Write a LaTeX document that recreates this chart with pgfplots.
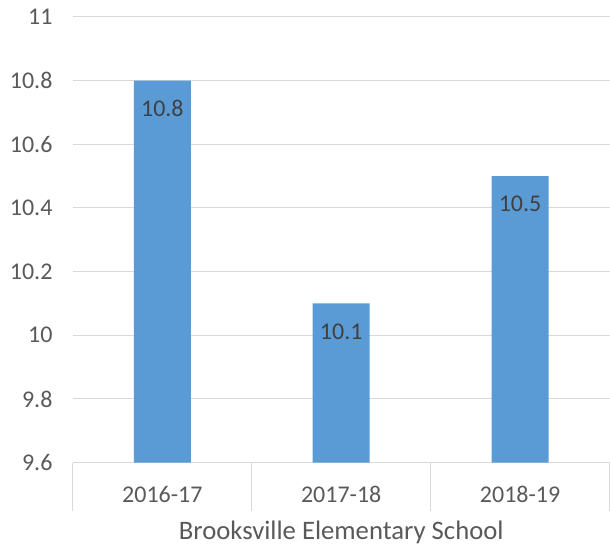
\documentclass[border=0pt]{standalone}
\usepackage{pgfplots}
\pgfplotsset{compat=1.18}
\usepackage{fontspec}
\setmainfont{Carlito}
\definecolor{barblue}{HTML}{5B9BD5}
\definecolor{gridgray}{HTML}{D9D9D9}
\definecolor{txtgray}{HTML}{595959}
\definecolor{lblgray}{HTML}{404040}
\begin{document}
\begin{tikzpicture}
\begin{axis}[
  scale only axis,
  width=537pt, height=446pt,
  xmin=-0.5, xmax=2.5, ymin=9.6, ymax=11,
  ytick={9.6,9.8,10,10.2,10.4,10.6,10.8,11},
  xtick={0,1,2},
  xticklabels={2016-17,2017-18,2018-19},
  minor xtick={-0.5,0.5,1.5,2.5},
  major tick length=0pt,
  minor tick length=48pt,
  tick align=outside,
  xtick style={draw=none},
  minor x tick style={draw=gridgray, line width=1pt},
  ytick style={draw=none},
  ymajorgrids,
  grid style={draw=gridgray, line width=1pt},
  axis x line*=bottom,
  axis y line*=left,
  separate axis lines,
  x axis line style={draw=gridgray, line width=1pt, -},
  y axis line style={draw=none},
  /pgf/number format/assume math mode=true,
  tick label style={font=\fontsize{24}{29}\selectfont, text=txtgray},
  yticklabel style={anchor=east, xshift=-17pt},
  xticklabel style={anchor=center, yshift=-32pt},
  xlabel={Brooksville Elementary School},
  xlabel style={font=\fontsize{26.7}{32}\selectfont, text=txtgray, anchor=center, at={(axis description cs:0.5,0)}, yshift=-70pt},
  clip=false,
]
\addplot[ybar, bar width=57pt, fill=barblue, draw=none,
  nodes near coords,
  every node near coord/.append style={font=\fontsize{24}{29}\selectfont, text=lblgray, anchor=center, yshift=-28pt}]
  coordinates {(0,10.8) (1,10.1) (2,10.5)};
\end{axis}
\path (current axis.south west) ++(-73pt,-85pt) coordinate (bbsw);
\path (current axis.north east) ++(0pt,17pt) coordinate (bbne);
\useasboundingbox (bbsw) rectangle (bbne);
\end{tikzpicture}
\end{document}
